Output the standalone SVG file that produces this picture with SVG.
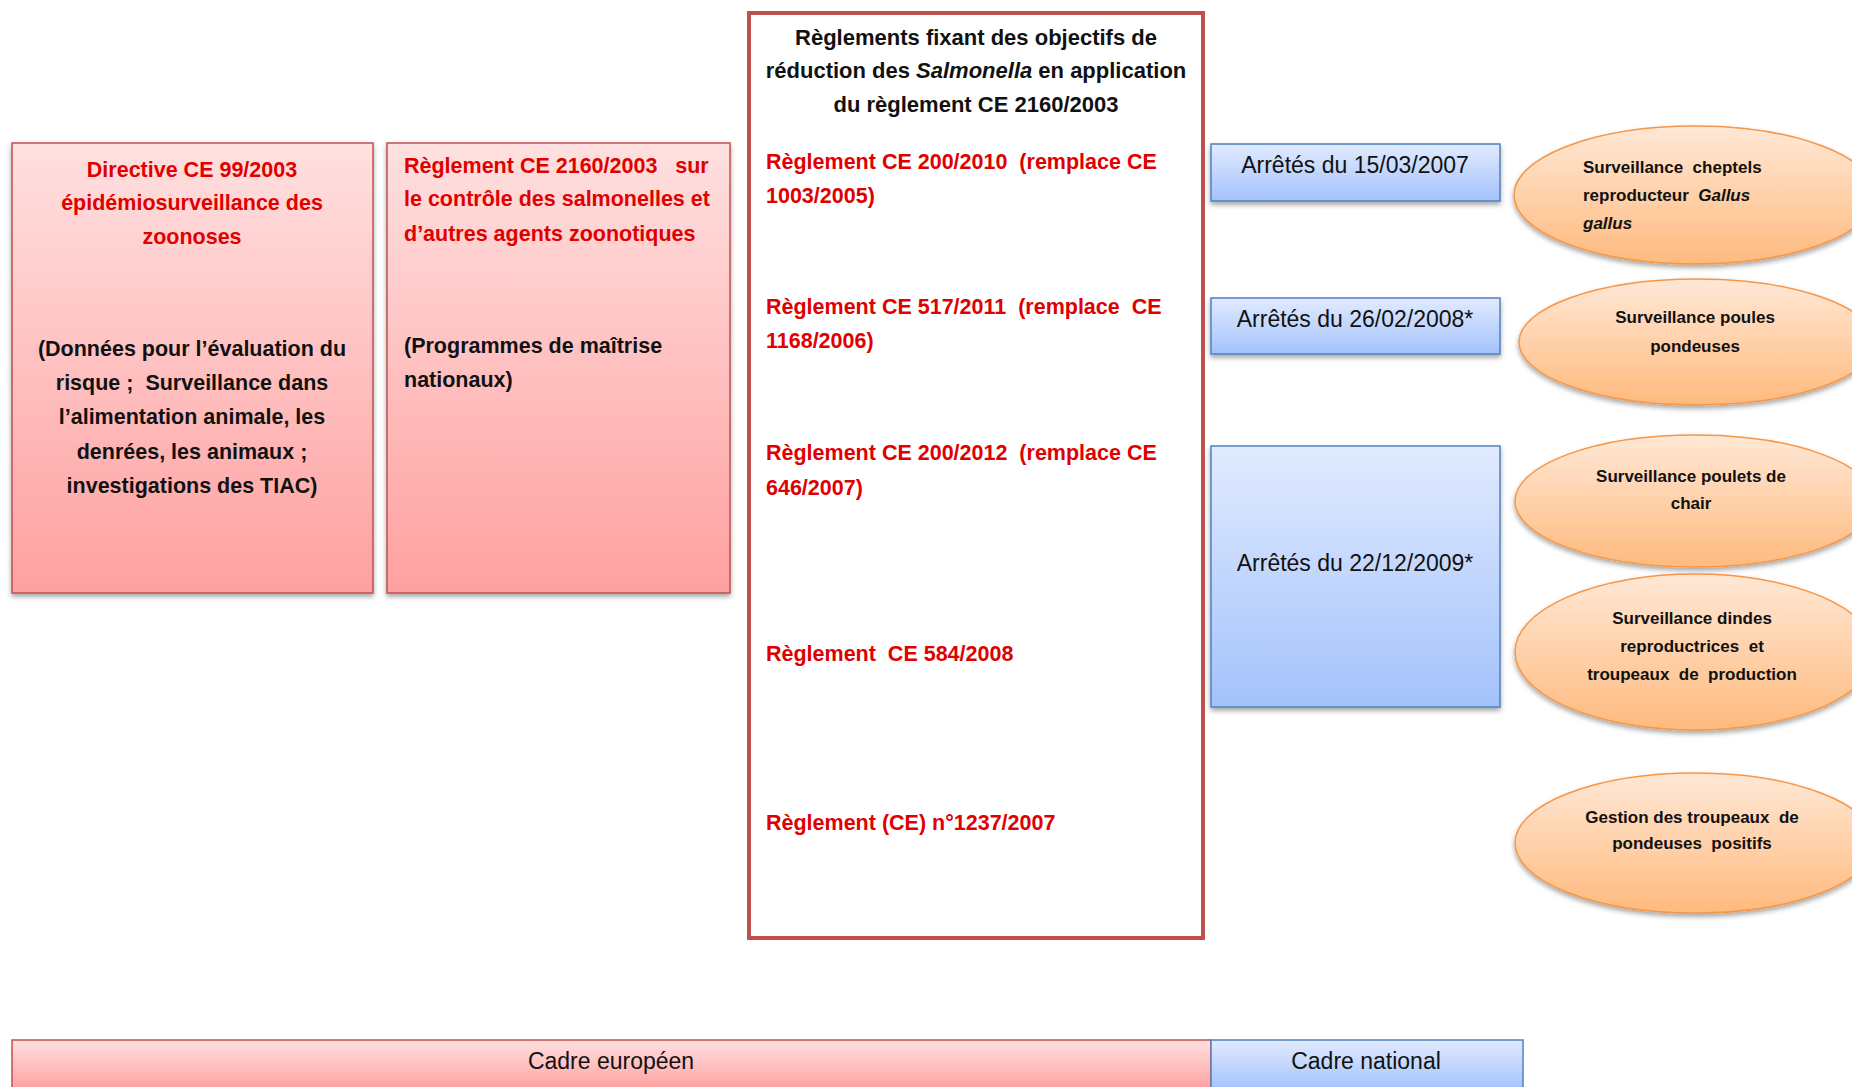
<svg xmlns="http://www.w3.org/2000/svg" width="1852" height="1087" viewBox="0 0 1852 1087">
<defs>
<linearGradient id="gPink" x1="0" y1="0" x2="0" y2="1"><stop offset="0" stop-color="#FFE0E0"/><stop offset="1" stop-color="#FFA0A0"/></linearGradient>
<linearGradient id="gBlue" x1="0" y1="0" x2="0" y2="1"><stop offset="0" stop-color="#E1EBFF"/><stop offset="1" stop-color="#A3C2FB"/></linearGradient>
<linearGradient id="gOrange" x1="0" y1="0" x2="0" y2="1"><stop offset="0" stop-color="#FFE8D6"/><stop offset="1" stop-color="#FFBA7E"/></linearGradient>
<filter id="sh" x="-10%" y="-10%" width="120%" height="125%"><feDropShadow dx="0" dy="3" stdDeviation="2.5" flood-color="#000" flood-opacity="0.35"/></filter>
</defs>
<style>
.pink{fill:url(#gPink);stroke:#C0504D;stroke-width:1.5;filter:url(#sh)}
.blue{fill:url(#gBlue);stroke:#4F81BD;stroke-width:1.5;filter:url(#sh)}
.orange{fill:url(#gOrange);stroke:#F79646;stroke-width:1.5;filter:url(#sh)}
text{font-family:"Liberation Sans",Arial,sans-serif;white-space:pre}
.b{font-weight:bold;font-size:21.5px}
.t{font-weight:bold;font-size:22px}
.red{fill:#E00000}
.blk{fill:#111}
.reg{font-size:23px;fill:#111}
.ell{font-weight:bold;font-size:17px;fill:#111}
.c{text-anchor:middle}
</style>
<rect width="1852" height="1087" fill="#fff"/>
<g id="connectors"/>
<g id="directive">
<rect class="pink" x="12" y="143" width="361" height="450"/>
<text class="b red c" x="192" y="177">Directive CE 99/2003</text>
<text class="b red c" x="192" y="210">épidémiosurveillance des</text>
<text class="b red c" x="192" y="244">zoonoses</text>
<text class="b blk c" x="192" y="356">(Données pour l’évaluation du</text>
<text class="b blk c" x="192" y="390">risque ;  Surveillance dans</text>
<text class="b blk c" x="192" y="424">l’alimentation animale, les</text>
<text class="b blk c" x="192" y="459">denrées, les animaux ;</text>
<text class="b blk c" x="192" y="493">investigations des TIAC)</text>
</g>
<g id="reglement2160">
<rect class="pink" x="387" y="143" width="343" height="450"/>
<text class="b red" x="404" y="173">Règlement CE 2160/2003   sur</text>
<text class="b red" x="404" y="206">le contrôle des salmonelles et</text>
<text class="b red" x="404" y="241">d’autres agents zoonotiques</text>
<text class="b blk" x="404" y="353">(Programmes de maîtrise</text>
<text class="b blk" x="404" y="387">nationaux)</text>
</g>
<g id="reglements">
<rect x="749" y="13" width="454" height="925" fill="#fff" stroke="#C0504D" stroke-width="4"/>
<text class="t blk c" x="976" y="45">Règlements fixant des objectifs de</text>
<text class="t blk c" x="976" y="78">réduction des <tspan font-style="italic">Salmonella</tspan> en application</text>
<text class="t blk c" x="976" y="112">du règlement CE 2160/2003</text>
<text class="b red" x="766" y="169">Règlement CE 200/2010  (remplace CE</text>
<text class="b red" x="766" y="203">1003/2005)</text>
<text class="b red" x="766" y="314">Règlement CE 517/2011  (remplace  CE</text>
<text class="b red" x="766" y="348">1168/2006)</text>
<text class="b red" x="766" y="460">Règlement CE 200/2012  (remplace CE</text>
<text class="b red" x="766" y="495">646/2007)</text>
<text class="b red" x="766" y="661">Règlement  CE 584/2008</text>
<text class="b red" x="766" y="830">Règlement (CE) n°1237/2007</text>
</g>
<g id="arrete2007">
<rect class="blue" x="1211" y="144" width="289" height="57"/>
<text class="reg c" x="1355" y="173">Arrêtés du 15/03/2007</text>
</g>
<g id="arrete2008">
<rect class="blue" x="1211" y="298" width="289" height="56"/>
<text class="reg c" x="1355" y="327">Arrêtés du 26/02/2008*</text>
</g>
<g id="arrete2009">
<rect class="blue" x="1211" y="446" width="289" height="261"/>
<text class="reg c" x="1355" y="571">Arrêtés du 22/12/2009*</text>
</g>
<g id="ell-gallus">
<ellipse class="orange" cx="1695" cy="195" rx="181" ry="69"/>
<text class="ell" x="1583" y="173">Surveillance  cheptels</text>
<text class="ell" x="1583" y="201">reproducteur  <tspan font-style="italic">Gallus</tspan></text>
<text class="ell" x="1583" y="229" font-style="italic">gallus</text>
</g>
<g id="ell-poules">
<ellipse class="orange" cx="1697" cy="342" rx="178" ry="63"/>
<text class="ell c" x="1695" y="323">Surveillance poules</text>
<text class="ell c" x="1695" y="352">pondeuses</text>
</g>
<g id="ell-poulets">
<ellipse class="orange" cx="1695" cy="501" rx="180" ry="66"/>
<text class="ell c" x="1691" y="482">Surveillance poulets de</text>
<text class="ell c" x="1691" y="509">chair</text>
</g>
<g id="ell-dindes">
<ellipse class="orange" cx="1695" cy="652" rx="180" ry="78"/>
<text class="ell c" x="1692" y="624">Surveillance dindes</text>
<text class="ell c" x="1692" y="652">reproductrices  et</text>
<text class="ell c" x="1692" y="680">troupeaux  de  production</text>
</g>
<g id="ell-gestion">
<ellipse class="orange" cx="1695" cy="843" rx="180" ry="70"/>
<text class="ell c" x="1692" y="823">Gestion des troupeaux  de</text>
<text class="ell c" x="1692" y="849">pondeuses  positifs</text>
</g>
<g id="cadre-europeen">
<rect x="12" y="1040" width="1199" height="50" fill="url(#gPink)" stroke="#C0504D" stroke-width="1.5"/>
<text class="reg c" x="611" y="1069">Cadre européen</text>
</g>
<g id="cadre-national">
<rect x="1211" y="1040" width="312" height="50" fill="url(#gBlue)" stroke="#4F81BD" stroke-width="1.5"/>
<text class="reg c" x="1366" y="1069">Cadre national</text>
</g>
</svg>
